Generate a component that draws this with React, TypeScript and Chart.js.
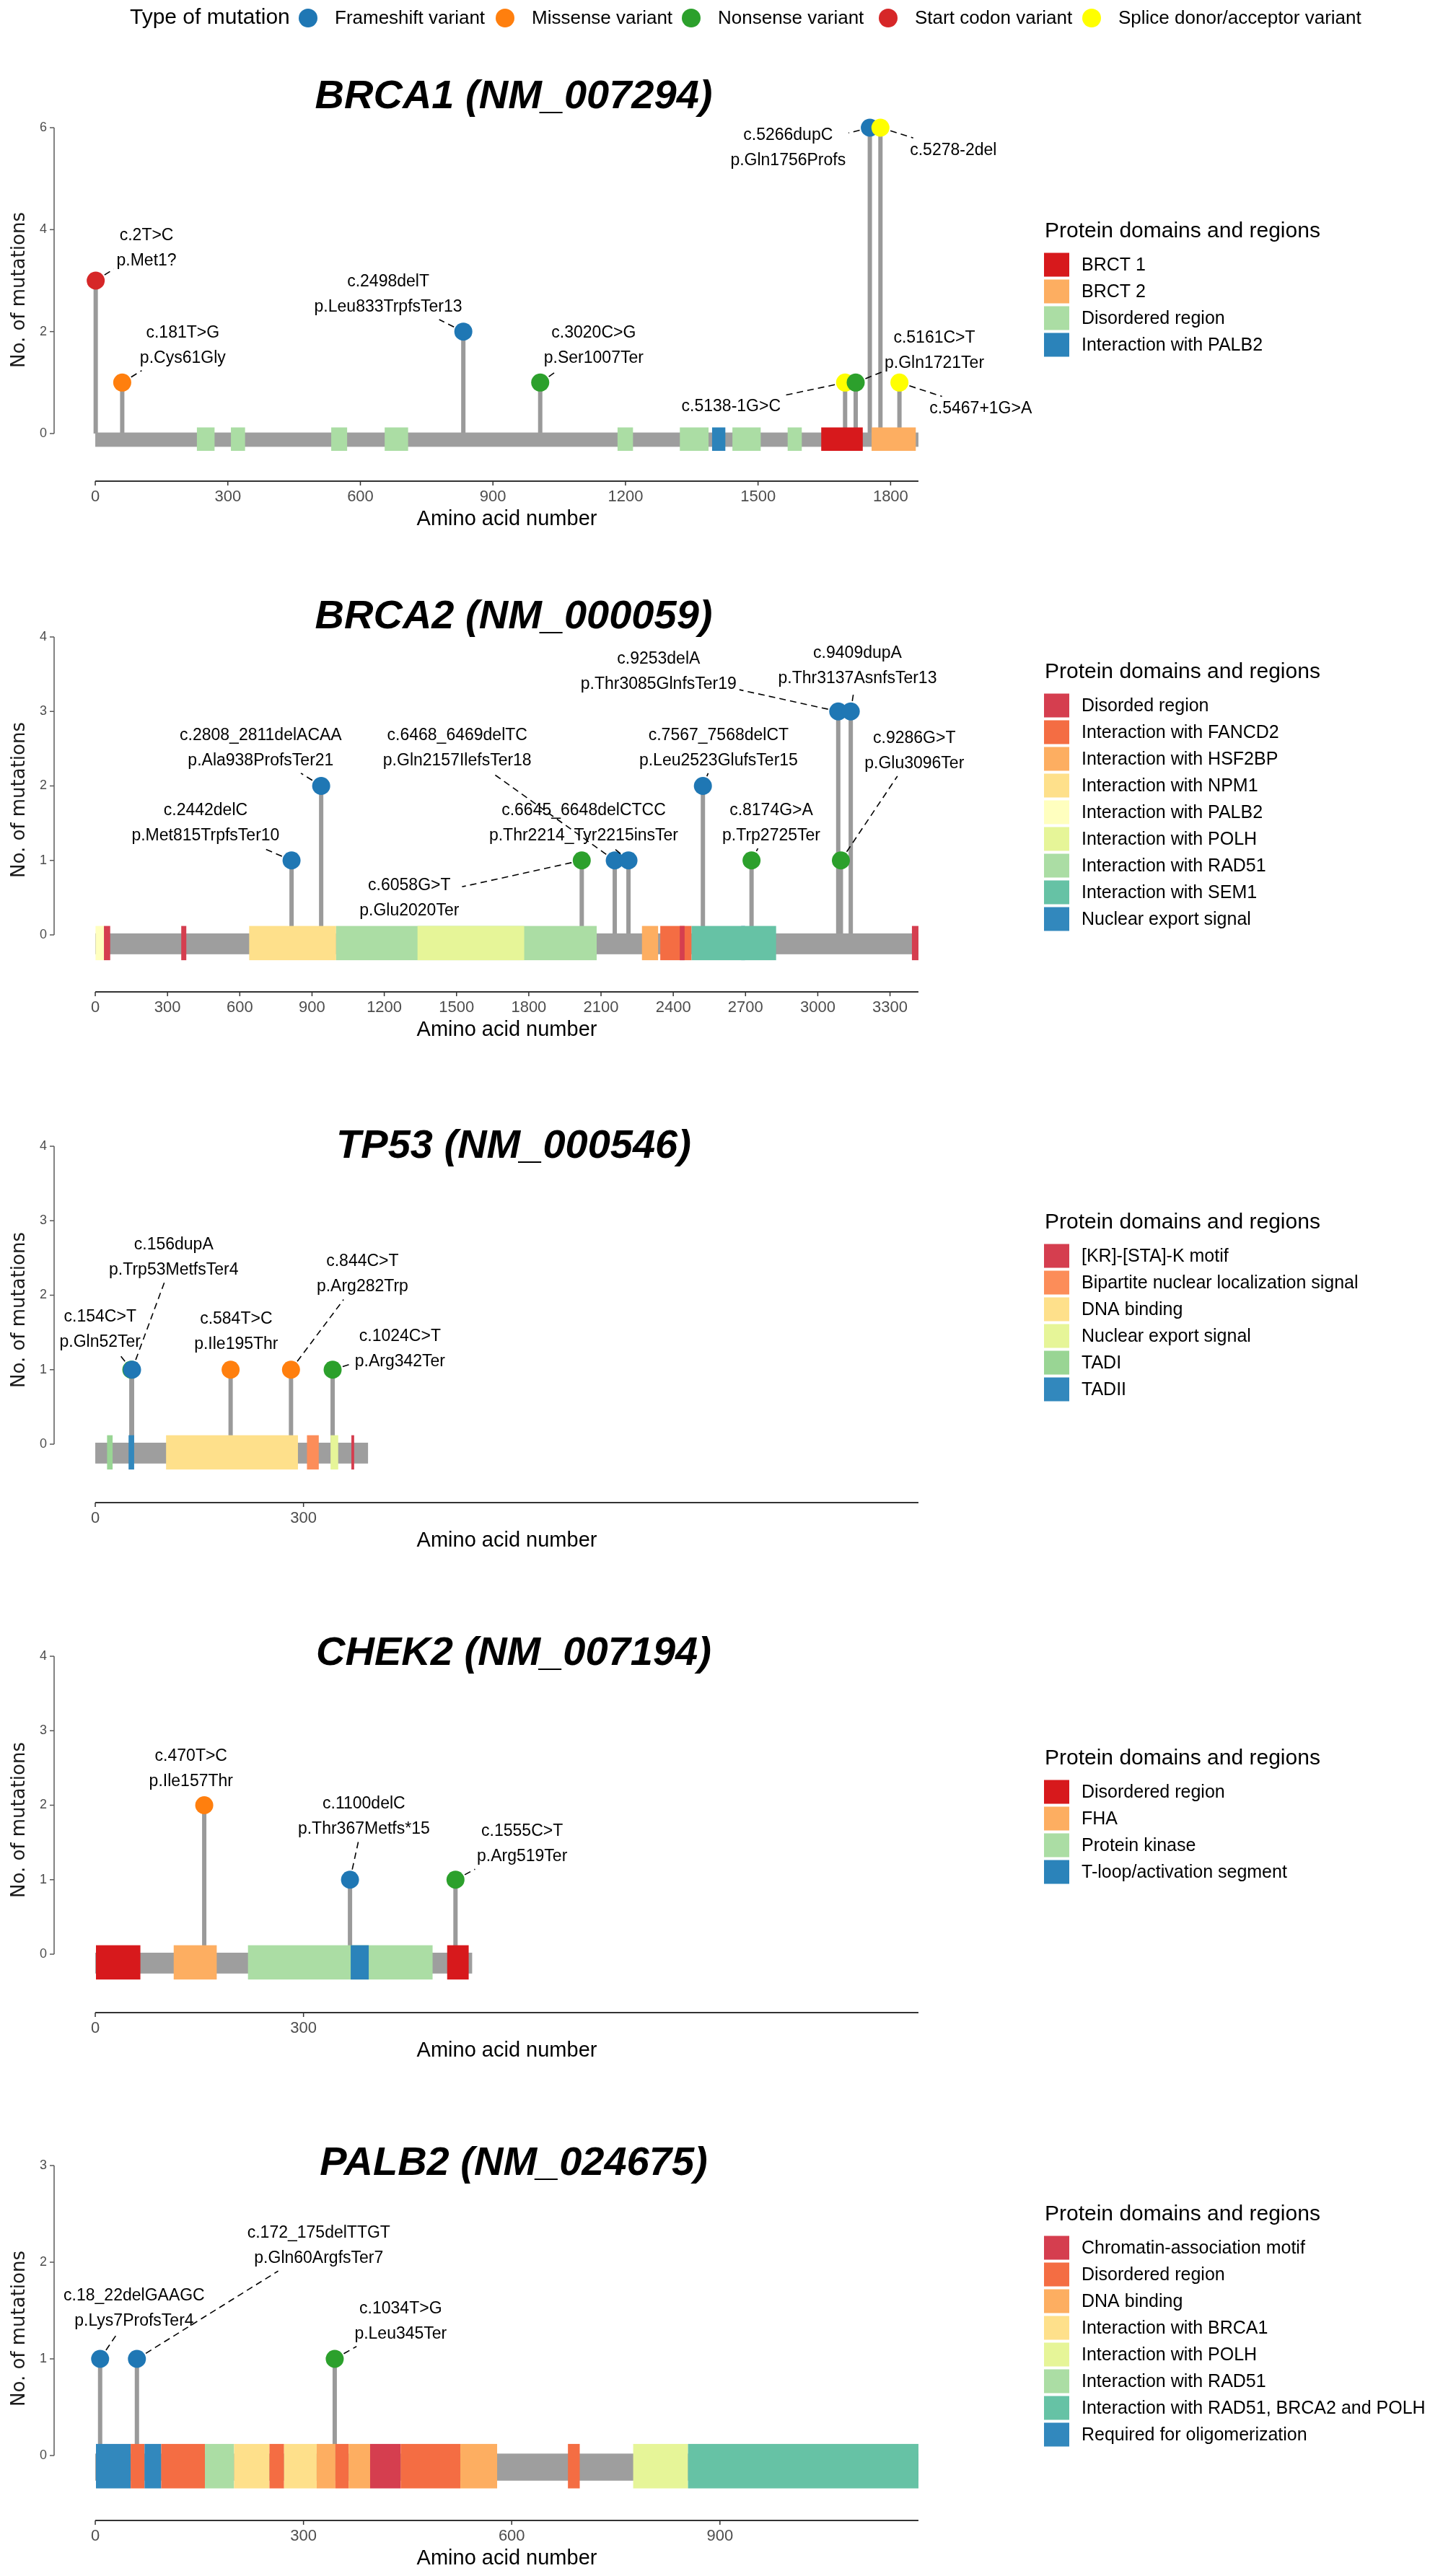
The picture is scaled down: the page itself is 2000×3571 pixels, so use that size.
import React, { useEffect, useRef } from 'react';
import { Chart, registerables } from 'chart.js';

Chart.register(...registerables);

// ---------- mutation types ----------
const MUTATION_TYPES = ['Frameshift variant', 'Missense variant', 'Nonsense variant', 'Start codon variant', 'Splice donor/acceptor variant'];
const MUTATION_COLORS = ['#1f77b4', '#ff7f0e', '#2ca02c', '#d62728', '#ffff00'];

// ---------- BRCA1 ----------
const BRCA1_TITLE = 'BRCA1 (NM_007294)';
const BRCA1_LENGTH = 1863;
const BRCA1_POS = [1, 61, 833, 1007, 1697, 1721, 1753, 1777, 1820];
const BRCA1_COUNT = [3, 1, 2, 1, 1, 1, 6, 6, 1];
const BRCA1_TYPE = [3, 1, 0, 2, 4, 2, 0, 4, 4];
const BRCA1_CDNA = ['c.2T>C', 'c.181T>G', 'c.2498delT', 'c.3020C>G', 'c.5138-1G>C', 'c.5161C>T', 'c.5266dupC', 'c.5278-2del', 'c.5467+1G>A'];
const BRCA1_PROT = ['p.Met1?', 'p.Cys61Gly', 'p.Leu833TrpfsTer13', 'p.Ser1007Ter', '', 'p.Gln1721Ter', 'p.Gln1756Profs', '', ''];
const BRCA1_LABEL_X = [116, 198, 663, 1128, 1439, 1899, 1568, 1942, 2004];
const BRCA1_LABEL_Y = [3.64, 1.73, 2.73, 1.73, 0.53, 1.62, 5.6, 5.55, 0.48];
const BRCA1_DOMAIN_NAMES = ['BRCT 1', 'BRCT 2', 'Disordered region', 'Interaction with PALB2'];
const BRCA1_DOMAIN_START = [230, 307, 534, 655, 1182, 1323, 1442, 1567, 1396, 1643, 1757];
const BRCA1_DOMAIN_END = [270, 339, 570, 708, 1217, 1388, 1506, 1599, 1426, 1737, 1857];
const BRCA1_DOMAIN_KIND = [2, 2, 2, 2, 2, 2, 2, 2, 3, 0, 1];
const BRCA1_X_TICKS = [0, 300, 600, 900, 1200, 1500, 1800];
const BRCA1_Y_TICKS = [0, 2, 4, 6];

// ---------- BRCA2 ----------
const BRCA2_TITLE = 'BRCA2 (NM_000059)';
const BRCA2_LENGTH = 3418;
const BRCA2_POS = [815, 938, 2020, 2157, 2214, 2523, 2725, 3085, 3096, 3137];
const BRCA2_COUNT = [1, 2, 1, 1, 1, 2, 1, 3, 1, 3];
const BRCA2_TYPE = [0, 0, 2, 0, 0, 0, 2, 0, 2, 0];
const BRCA2_CDNA = ['c.2442delC', 'c.2808_2811delACAA', 'c.6058G>T', 'c.6468_6469delTC', 'c.6645_6648delCTCC', 'c.7567_7568delCT', 'c.8174G>A', 'c.9253delA', 'c.9286G>T', 'c.9409dupA'];
const BRCA2_PROT = ['p.Met815TrpfsTer10', 'p.Ala938ProfsTer21', 'p.Glu2020Ter', 'p.Gln2157IlefsTer18', 'p.Thr2214_Tyr2215insTer', 'p.Leu2523GlufsTer15', 'p.Trp2725Ter', 'p.Thr3085GlnfsTer19', 'p.Glu3096Ter', 'p.Thr3137AsnfsTer13'];
const BRCA2_LABEL_X = [458, 687, 1304, 1503, 2028, 2588, 2807, 2339, 3401, 3165];
const BRCA2_LABEL_Y = [1.5, 2.51, 0.49, 2.51, 1.5, 2.51, 1.5, 3.53, 2.47, 3.61];
const BRCA2_DOMAIN_NAMES = ['Disorded region', 'Interaction with FANCD2', 'Interaction with HSF2BP', 'Interaction with NPM1', 'Interaction with PALB2', 'Interaction with POLH', 'Interaction with RAD51', 'Interaction with SEM1', 'Nuclear export signal'];
const BRCA2_DOMAIN_START = [1, 36, 357, 639, 1000, 1338, 2270, 2346, 2427, 2682, 2476, 3391];
const BRCA2_DOMAIN_END = [40, 62, 378, 1000, 2082, 1781, 2337, 2476, 2447, 2698, 2827, 3418];
const BRCA2_DOMAIN_KIND = [4, 0, 0, 3, 6, 5, 2, 1, 0, 8, 7, 0];
const BRCA2_X_TICKS = [0, 300, 600, 900, 1200, 1500, 1800, 2100, 2400, 2700, 3000, 3300];
const BRCA2_Y_TICKS = [0, 1, 2, 3, 4];

// ---------- TP53 ----------
const TP53_TITLE = 'TP53 (NM_000546)';
const TP53_LENGTH = 393;
const TP53_POS = [52, 53, 195, 282, 342];
const TP53_COUNT = [1, 1, 1, 1, 1];
const TP53_TYPE = [2, 0, 1, 1, 2];
const TP53_CDNA = ['c.154C>T', 'c.156dupA', 'c.584T>C', 'c.844C>T', 'c.1024C>T'];
const TP53_PROT = ['p.Gln52Ter', 'p.Trp53MetfsTer4', 'p.Ile195Thr', 'p.Arg282Trp', 'p.Arg342Ter'];
const TP53_LABEL_X = [7, 113, 203, 385, 439];
const TP53_LABEL_Y = [1.54, 2.51, 1.51, 2.28, 1.28];
const TP53_DOMAIN_NAMES = ['[KR]-[STA]-K motif', 'Bipartite nuclear localization signal', 'DNA binding', 'Nuclear export signal', 'TADI', 'TADII'];
const TP53_DOMAIN_START = [17, 48, 102, 305, 339, 369];
const TP53_DOMAIN_END = [25, 56, 292, 322, 350, 373];
const TP53_DOMAIN_KIND = [4, 5, 2, 1, 3, 0];
const TP53_X_TICKS = [0, 300];
const TP53_Y_TICKS = [0, 1, 2, 3, 4];

// ---------- CHEK2 ----------
const CHEK2_TITLE = 'CHEK2 (NM_007194)';
const CHEK2_LENGTH = 543;
const CHEK2_POS = [157, 367, 519];
const CHEK2_COUNT = [2, 1, 1];
const CHEK2_TYPE = [1, 0, 2];
const CHEK2_CDNA = ['c.470T>C', 'c.1100delC', 'c.1555C>T'];
const CHEK2_PROT = ['p.Ile157Thr', 'p.Thr367Metfs*15', 'p.Arg519Ter'];
const CHEK2_LABEL_X = [138, 387, 615];
const CHEK2_LABEL_Y = [2.49, 1.85, 1.48];
const CHEK2_DOMAIN_NAMES = ['Disordered region', 'FHA', 'Protein kinase', 'T-loop/activation segment'];
const CHEK2_DOMAIN_START = [1, 113, 220, 368, 507];
const CHEK2_DOMAIN_END = [65, 175, 486, 394, 538];
const CHEK2_DOMAIN_KIND = [0, 1, 2, 3, 0];
const CHEK2_X_TICKS = [0, 300];
const CHEK2_Y_TICKS = [0, 1, 2, 3, 4];

// ---------- PALB2 ----------
const PALB2_TITLE = 'PALB2 (NM_024675)';
const PALB2_LENGTH = 1186;
const PALB2_POS = [7, 60, 345];
const PALB2_COUNT = [1, 1, 1];
const PALB2_TYPE = [0, 0, 2];
const PALB2_CDNA = ['c.18_22delGAAGC', 'c.172_175delTTGT', 'c.1034T>G'];
const PALB2_PROT = ['p.Lys7ProfsTer4', 'p.Gln60ArgfsTer7', 'p.Leu345Ter'];
const PALB2_LABEL_X = [56, 322, 440];
const PALB2_LABEL_Y = [1.52, 2.17, 1.39];
const PALB2_DOMAIN_NAMES = ['Chromatin-association motif', 'Disordered region', 'DNA binding', 'Interaction with BRCA1', 'Interaction with POLH', 'Interaction with RAD51', 'Interaction with RAD51, BRCA2 and POLH', 'Required for oligomerization'];
const PALB2_DOMAIN_START = [1, 51, 71, 95, 158, 200, 251, 272, 319, 346, 365, 396, 440, 526, 681, 775, 854];
const PALB2_DOMAIN_END = [51, 71, 95, 158, 200, 251, 272, 319, 346, 365, 396, 440, 526, 579, 698, 854, 1186];
const PALB2_DOMAIN_KIND = [7, 1, 7, 1, 5, 3, 1, 3, 2, 1, 2, 0, 1, 2, 1, 4, 6];
const PALB2_X_TICKS = [0, 300, 600, 900];
const PALB2_Y_TICKS = [0, 1, 2, 3];

// ---------- palettes (RColorBrewer Spectral) ----------
const SPECTRAL_4 = ['#d7191c', '#fdae61', '#abdda4', '#2b83ba'];
const SPECTRAL_6 = ['#d53e4f', '#fc8d59', '#fee08b', '#e6f598', '#99d594', '#3288bd'];
const SPECTRAL_8 = ['#d53e4f', '#f46d43', '#fdae61', '#fee08b', '#e6f598', '#abdda4', '#66c2a5', '#3288bd'];
const SPECTRAL_9 = ['#d53e4f', '#f46d43', '#fdae61', '#fee08b', '#ffffbf', '#e6f598', '#abdda4', '#66c2a5', '#3288bd'];

const FONT = '"Liberation Sans", Arial, Helvetica, sans-serif';
const W = 2000;
const PLOT_LEFT = 75;
const PLOT_RIGHT = 1330;
const BACKBONE_COLOR = '#9e9e9e';
const STEM_COLOR = '#9a9a9a';

const PANELS = [
  { title: BRCA1_TITLE, length: BRCA1_LENGTH, scaleLen: BRCA1_LENGTH, pos: BRCA1_POS, count: BRCA1_COUNT, type: BRCA1_TYPE, cdna: BRCA1_CDNA, prot: BRCA1_PROT, lx: BRCA1_LABEL_X, ly: BRCA1_LABEL_Y, dNames: BRCA1_DOMAIN_NAMES, dStart: BRCA1_DOMAIN_START, dEnd: BRCA1_DOMAIN_END, dKind: BRCA1_DOMAIN_KIND, palette: SPECTRAL_4, xTicks: BRCA1_X_TICKS, yTicks: BRCA1_Y_TICKS },
  { title: BRCA2_TITLE, length: BRCA2_LENGTH, scaleLen: BRCA2_LENGTH, pos: BRCA2_POS, count: BRCA2_COUNT, type: BRCA2_TYPE, cdna: BRCA2_CDNA, prot: BRCA2_PROT, lx: BRCA2_LABEL_X, ly: BRCA2_LABEL_Y, dNames: BRCA2_DOMAIN_NAMES, dStart: BRCA2_DOMAIN_START, dEnd: BRCA2_DOMAIN_END, dKind: BRCA2_DOMAIN_KIND, palette: SPECTRAL_9, xTicks: BRCA2_X_TICKS, yTicks: BRCA2_Y_TICKS },
  { title: TP53_TITLE, length: TP53_LENGTH, scaleLen: PALB2_LENGTH, pos: TP53_POS, count: TP53_COUNT, type: TP53_TYPE, cdna: TP53_CDNA, prot: TP53_PROT, lx: TP53_LABEL_X, ly: TP53_LABEL_Y, dNames: TP53_DOMAIN_NAMES, dStart: TP53_DOMAIN_START, dEnd: TP53_DOMAIN_END, dKind: TP53_DOMAIN_KIND, palette: SPECTRAL_6, xTicks: TP53_X_TICKS, yTicks: TP53_Y_TICKS },
  { title: CHEK2_TITLE, length: CHEK2_LENGTH, scaleLen: PALB2_LENGTH, pos: CHEK2_POS, count: CHEK2_COUNT, type: CHEK2_TYPE, cdna: CHEK2_CDNA, prot: CHEK2_PROT, lx: CHEK2_LABEL_X, ly: CHEK2_LABEL_Y, dNames: CHEK2_DOMAIN_NAMES, dStart: CHEK2_DOMAIN_START, dEnd: CHEK2_DOMAIN_END, dKind: CHEK2_DOMAIN_KIND, palette: SPECTRAL_4, xTicks: CHEK2_X_TICKS, yTicks: CHEK2_Y_TICKS },
  { title: PALB2_TITLE, length: PALB2_LENGTH, scaleLen: PALB2_LENGTH, pos: PALB2_POS, count: PALB2_COUNT, type: PALB2_TYPE, cdna: PALB2_CDNA, prot: PALB2_PROT, lx: PALB2_LABEL_X, ly: PALB2_LABEL_Y, dNames: PALB2_DOMAIN_NAMES, dStart: PALB2_DOMAIN_START, dEnd: PALB2_DOMAIN_END, dKind: PALB2_DOMAIN_KIND, palette: SPECTRAL_8, xTicks: PALB2_X_TICKS, yTicks: PALB2_Y_TICKS },
];

// page layout (absolute pixel positions of each panel)
const LAYOUT = [
  { top: 0, height: 740, yTop: 177, y0: 601, axisY: 667, titleY: 135, legendY: 321 },
  { top: 740, height: 710, yTop: 883, y0: 1296, axisY: 1375, titleY: 856, legendY: 932 },
  { top: 1450, height: 720, yTop: 1589, y0: 2002, axisY: 2083, titleY: 1590, legendY: 1695 },
  { top: 2170, height: 700, yTop: 2296, y0: 2709, axisY: 2790, titleY: 2293, legendY: 2438 },
  { top: 2870, height: 701, yTop: 3002, y0: 3404, axisY: 3494, titleY: 3000, legendY: 3070 },
];

const TOP_PAD = 40;
const BAR_LOW = -0.26, BAR_HIGH = 0.02;
const DOM_LOW = -0.34, DOM_HIGH = 0.12;
const POINT_R = 12.5;
const LINE_H = 35;

function makePlugin(g: any, lay: any, idx: number) {
  return {
    id: 'lollipop' + idx,
    beforeDatasetsDraw(chart: any) {
      const { ctx, chartArea } = chart;
      const xs = chart.scales.x;
      const ys = chart.scales.y;
      ctx.save();
      // y axis (capped)
      const yMaxTick = g.yTicks[g.yTicks.length - 1];
      ctx.strokeStyle = '#5a5a5a';
      ctx.lineWidth = 1.5;
      ctx.beginPath();
      ctx.moveTo(chartArea.left, ys.getPixelForValue(0));
      ctx.lineTo(chartArea.left, ys.getPixelForValue(yMaxTick));
      ctx.stroke();
      ctx.fillStyle = '#4d4d4d';
      ctx.font = `18px ${FONT}`;
      ctx.textAlign = 'right';
      ctx.textBaseline = 'middle';
      g.yTicks.forEach((t: number) => {
        const py = ys.getPixelForValue(t);
        ctx.beginPath();
        ctx.moveTo(chartArea.left - 6, py);
        ctx.lineTo(chartArea.left, py);
        ctx.stroke();
        ctx.fillText(String(t), chartArea.left - 10, py);
      });
      // x axis (capped)
      const ay = chartArea.bottom;
      ctx.strokeStyle = '#333333';
      ctx.lineWidth = 2;
      ctx.beginPath();
      ctx.moveTo(xs.getPixelForValue(0), ay);
      ctx.lineTo(xs.getPixelForValue(g.scaleLen), ay);
      ctx.stroke();
      ctx.lineWidth = 1.5;
      ctx.fillStyle = '#4d4d4d';
      ctx.font = `22px ${FONT}`;
      ctx.textAlign = 'center';
      g.xTicks.forEach((t: number) => {
        const px = xs.getPixelForValue(t);
        ctx.beginPath();
        ctx.moveTo(px, ay);
        ctx.lineTo(px, ay + 6);
        ctx.stroke();
        ctx.fillText(String(t), px, ay + 22);
      });
      // stems
      ctx.strokeStyle = STEM_COLOR;
      ctx.lineWidth = 6;
      g.pos.forEach((p: number, i: number) => {
        const px = xs.getPixelForValue(p);
        ctx.beginPath();
        ctx.moveTo(px, ys.getPixelForValue(0));
        ctx.lineTo(px, ys.getPixelForValue(g.count[i]));
        ctx.stroke();
      });
      // backbone
      const bx0 = xs.getPixelForValue(0);
      const bx1 = xs.getPixelForValue(g.length);
      const by0 = ys.getPixelForValue(BAR_HIGH);
      const by1 = ys.getPixelForValue(BAR_LOW);
      ctx.fillStyle = BACKBONE_COLOR;
      ctx.fillRect(bx0, by0, bx1 - bx0, by1 - by0);
      // domains
      const dy0 = ys.getPixelForValue(DOM_HIGH);
      const dy1 = ys.getPixelForValue(DOM_LOW);
      g.dStart.forEach((s: number, i: number) => {
        const x0 = xs.getPixelForValue(s);
        const x1 = xs.getPixelForValue(g.dEnd[i]);
        ctx.fillStyle = g.palette[g.dKind[i]];
        ctx.fillRect(x0, dy0, Math.max(1.5, x1 - x0), dy1 - dy0);
      });
      ctx.restore();
    },
    afterDatasetsDraw(chart: any) {
      const { ctx, chartArea } = chart;
      const xs = chart.scales.x;
      const ys = chart.scales.y;
      const off = lay.top;
      ctx.save();
      // labels + leaders
      ctx.font = `23px ${FONT}`;
      ctx.textAlign = 'center';
      ctx.textBaseline = 'middle';
      g.pos.forEach((p: number, i: number) => {
        const lines = g.prot[i] ? [g.cdna[i], g.prot[i]] : [g.cdna[i]];
        const Px = xs.getPixelForValue(p);
        const Py = ys.getPixelForValue(g.count[i]);
        const Lx = xs.getPixelForValue(g.lx[i]);
        const Ly = ys.getPixelForValue(g.ly[i]);
        const w = Math.max(...lines.map((s: string) => ctx.measureText(s).width)) + 8;
        const h = lines.length * LINE_H;
        const dx = Px - Lx;
        const dy = Py - Ly;
        let t = Infinity;
        if (dx !== 0) t = Math.min(t, (w / 2) / Math.abs(dx));
        if (dy !== 0) t = Math.min(t, (h / 2) / Math.abs(dy));
        if (t < 1) {
          const Ex = Lx + t * dx;
          const Ey = Ly + t * dy;
          const len = Math.hypot(Ex - Px, Ey - Py);
          if (len > POINT_R + 6) {
            const Sx = Px + ((Ex - Px) / len) * (POINT_R + 2);
            const Sy = Py + ((Ey - Py) / len) * (POINT_R + 2);
            ctx.strokeStyle = '#000000';
            ctx.lineWidth = 1.6;
            ctx.setLineDash([9, 6]);
            ctx.beginPath();
            ctx.moveTo(Sx, Sy);
            ctx.lineTo(Ex, Ey);
            ctx.stroke();
            ctx.setLineDash([]);
          }
        }
        ctx.fillStyle = '#000000';
        lines.forEach((s: string, k: number) => {
          ctx.fillText(s, Lx, Ly + (k - (lines.length - 1) / 2) * LINE_H);
        });
      });
      // title
      ctx.font = `italic bold 56px ${FONT}`;
      ctx.fillStyle = '#000000';
      ctx.textAlign = 'center';
      ctx.textBaseline = 'middle';
      ctx.fillText(g.title, 712, lay.titleY - off);
      // axis titles
      ctx.font = `29px ${FONT}`;
      ctx.fillText('Amino acid number', (chartArea.left + chartArea.right) / 2, chartArea.bottom + 53);
      ctx.save();
      ctx.translate(27, (chartArea.top + chartArea.bottom) / 2);
      ctx.rotate(-Math.PI / 2);
      ctx.font = `26px "DejaVu Sans", sans-serif`;
      ctx.fillStyle = '#1a1a1a';
      ctx.fillText('No. of mutations', 0, 0);
      ctx.restore();
      // domain legend
      const lyTitle = lay.legendY - off;
      ctx.textAlign = 'left';
      ctx.font = `30px ${FONT}`;
      ctx.fillStyle = '#000000';
      ctx.fillText('Protein domains and regions', 1448, lyTitle);
      ctx.font = `25px ${FONT}`;
      g.dNames.forEach((name: string, i: number) => {
        const cy = lyTitle + 46 + i * 37;
        ctx.fillStyle = g.palette[i];
        ctx.fillRect(1447, cy - 16.5, 35, 33);
        ctx.fillStyle = '#000000';
        ctx.fillText(name, 1499, cy + 1);
      });
      // mutation-type legend (top)
      if (idx === 0) {
        const cy = 25;
        ctx.font = `30px ${FONT}`;
        ctx.fillStyle = '#000000';
        ctx.fillText('Type of mutation', 180, cy);
        const dotX = [427, 700, 958, 1231, 1513];
        ctx.font = `26px ${FONT}`;
        MUTATION_TYPES.forEach((name, i) => {
          ctx.fillStyle = MUTATION_COLORS[i];
          ctx.beginPath();
          ctx.arc(dotX[i], cy, 13, 0, Math.PI * 2);
          ctx.fill();
          ctx.fillStyle = '#000000';
          ctx.fillText(name, dotX[i] + 37, cy + 1);
        });
      }
      ctx.restore();
    },
  };
}

function Panel({ g, lay, idx }: { g: any; lay: any; idx: number }) {
  const ref = useRef<HTMLCanvasElement | null>(null);
  useEffect(() => {
    if (!ref.current) return;
    const yMaxTick = g.yTicks[g.yTicks.length - 1];
    const unit = (lay.y0 - lay.yTop) / yMaxTick;
    const yMax = yMaxTick + TOP_PAD / unit;
    const yMin = -(lay.axisY - lay.y0) / unit;
    const padTop = lay.yTop - TOP_PAD - lay.top;
    const padBottom = lay.top + lay.height - lay.axisY;
    const chart = new Chart(ref.current, {
      type: 'scatter',
      data: {
        datasets: [
          {
            data: g.pos.map((p: number, i: number) => ({ x: p, y: g.count[i] })),
            pointBackgroundColor: g.type.map((t: number) => MUTATION_COLORS[t]),
            pointBorderColor: g.type.map((t: number) => MUTATION_COLORS[t]),
            pointBorderWidth: 0,
            pointRadius: POINT_R,
            showLine: false,
            clip: false,
          } as any,
        ],
      },
      options: {
        animation: false,
        responsive: false,
        devicePixelRatio: 1,
        events: [],
        layout: { padding: { left: PLOT_LEFT, right: W - PLOT_RIGHT, top: padTop, bottom: padBottom } },
        scales: {
          x: { type: 'linear', min: -0.05 * g.scaleLen, max: 1.05 * g.scaleLen, display: false },
          y: { type: 'linear', min: yMin, max: yMax, display: false },
        },
        plugins: { legend: { display: false }, tooltip: { enabled: false } },
      },
      plugins: [makePlugin(g, lay, idx)],
    });
    return () => chart.destroy();
  }, []);
  return (
    <canvas
      ref={ref}
      width={W}
      height={lay.height}
      style={{ position: 'absolute', left: 0, top: lay.top, width: W, height: lay.height, display: 'block' }}
    />
  );
}

export default function App() {
  useEffect(() => {
    document.body.style.margin = '0';
    document.body.style.background = '#ffffff';
  }, []);
  return (
    <div style={{ position: 'relative', width: W, height: 3571, background: '#ffffff', overflow: 'hidden' }}>
      {PANELS.map((g, i) => (
        <Panel key={i} g={g} lay={LAYOUT[i]} idx={i} />
      ))}
    </div>
  );
}
